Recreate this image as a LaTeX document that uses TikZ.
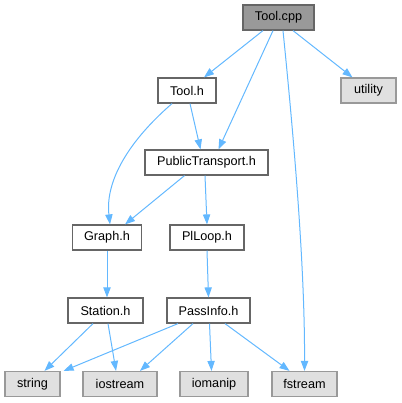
\documentclass[tikz,border=0pt]{standalone}
\usepackage{fontspec}
\setmainfont{Liberation Sans}
\usepackage{tikz}
\usetikzlibrary{arrows.meta,calc}
\definecolor{dxedge}{RGB}{99,184,255}
\definecolor{dxline}{RGB}{102,102,102}
\definecolor{dxroot}{RGB}{153,153,153}
\definecolor{dxsys}{RGB}{224,224,224}
\definecolor{dxsysline}{RGB}{153,153,153}
\tikzset{
  dxbox/.style={
    draw=dxline, line width=0.9pt, inner sep=0pt, align=center,
    minimum height=18.75pt, font=\fontsize{9.5pt}{11pt}\selectfont
  },
  root/.style={dxbox, fill=dxroot},
  hdr/.style={dxbox, fill=white},
  sys/.style={dxbox, draw=dxsysline, fill=dxsys},
  dep/.style={-{Triangle[length=7.5pt,width=5.5pt,fill=dxedge]}, draw=dxedge, line width=0.75pt}
}
\begin{document}
\begin{tikzpicture}[x=0.75pt,y=-0.75pt]
  \useasboundingbox (0,0) rectangle (401,403);
  % files
  \node[root, minimum width=53.25pt] (toolcpp) at (278.5,17.5) {Tool.cpp};
  \node[sys, minimum width=41.25pt] (utility) at (368.5,90.5) {utility};
  \node[hdr, minimum width=43.5pt] (toolh) at (187,90.5) {Tool.h};
  \node[hdr, minimum width=92.25pt] (ptrans) at (206.5,162.5) {PublicTransport.h};
  \node[hdr, minimum width=51.75pt] (graph) at (107,237.5) {Graph.h};
  \node[hdr, minimum width=55.5pt] (plloop) at (207,237.5) {PlLoop.h};
  \node[hdr, minimum width=56.25pt] (station) at (105.5,310.5) {Station.h};
  \node[hdr, minimum width=62.25pt] (passinfo) at (208.5,310.5) {PassInfo.h};
  \node[sys, minimum width=41.25pt] (string) at (32.5,384) {string};
  \node[sys, minimum width=55.5pt] (iostream) at (120,384) {iostream};
  \node[sys, minimum width=51pt] (iomanip) at (214,384) {iomanip};
  \node[sys, minimum width=48.75pt] (fstream) at (304.5,384) {fstream};

  % includes
  \draw[dep] ($(toolcpp.south)+(-15.5,0)$) -- ($(toolh.north)+(17,0)$);
  \draw[dep] ($(toolcpp.south)+(-5.5,0)$) -- ($(ptrans.north)+(12,0)$);
  \draw[dep] ($(toolcpp.south)+(4.5,0)$) .. controls (292,120) and (305,260) .. (fstream.north);
  \draw[dep] ($(toolcpp.south)+(14.5,0)$) -- ($(utility.north)+(-16,0)$);
  \draw[dep] ($(toolh.south)+(3,0)$) -- ($(ptrans.north)+(-6,0)$);
  \draw[dep] ($(toolh.south)+(-15,0)$) .. controls (130,140) and (105,180) .. ($(graph.north)+(3,0)$);
  \draw[dep] ($(ptrans.south)+(-22,0)$) -- ($(graph.north)+(18,0)$);
  \draw[dep] ($(ptrans.south)+(-1.5,0)$) -- (plloop.north);
  \draw[dep] (graph.south) -- ($(station.north)+(1.5,0)$);
  \draw[dep] (plloop.south) -- (passinfo.north);
  \draw[dep] ($(station.south)+(-12.5,0)$) -- ($(string.north)+(12,0)$);
  \draw[dep] ($(station.south)+(2.5,0)$) -- ($(iostream.north)+(-4,0)$);
  \draw[dep] ($(passinfo.south)+(-30.5,0)$) -- ($(string.north east)+(3,0)$);
  \draw[dep] ($(passinfo.south)+(-15.5,0)$) -- ($(iostream.north)+(20,0)$);
  \draw[dep] ($(passinfo.south)+(1,0)$) -- ($(iomanip.north)+(-2.5,0)$);
  \draw[dep] ($(passinfo.south)+(16.5,0)$) -- ($(fstream.north)+(-15,0)$);
\end{tikzpicture}
\end{document}
